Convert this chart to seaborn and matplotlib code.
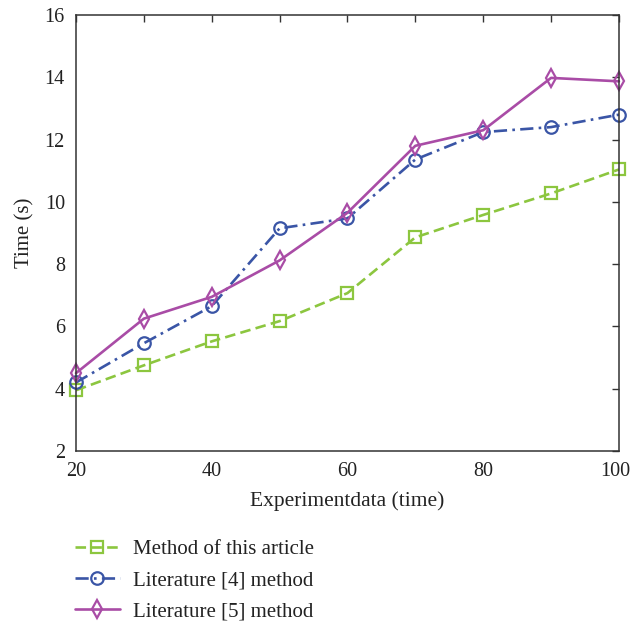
import matplotlib
matplotlib.use("Agg")
import matplotlib.pyplot as plt
import matplotlib.transforms as mtransforms
import seaborn as sns
import pandas as pd

x_vals = [20, 30, 40, 50, 60, 70, 80, 90, 100]
method_this = [3.95, 4.75, 5.52, 6.17, 7.07, 8.86, 9.58, 10.27, 11.04]
lit4 = [4.2, 5.46, 6.65, 9.15, 9.47, 11.36, 12.24, 12.4, 12.8]
lit5 = [4.5, 6.25, 6.95, 8.12, 9.65, 11.8, 12.3, 13.98, 13.87]
series_names = ["Method of this article", "Literature [4] method", "Literature [5] method"]
x_tick_labels = ["20", "", "40", "", "60", "", "80", "", "100"]
y_ticks = [2, 4, 6, 8, 10, 12, 14, 16]

df = pd.DataFrame({
    "x": x_vals * 3,
    "y": method_this + lit4 + lit5,
    "series": [series_names[0]] * 9 + [series_names[1]] * 9 + [series_names[2]] * 9,
})

sns.set_theme(style="white")
plt.rcParams['font.family'] = ['Liberation Serif', 'DejaVu Serif']

fig = plt.figure(figsize=(6.31, 6.22), dpi=100)
ax = fig.add_axes([0.1204, 0.2749, 0.8605, 0.701])

palette = {series_names[0]: "#8cc63f", series_names[1]: "#3a55a6", series_names[2]: "#a94ca6"}
dashes = {series_names[0]: (4, 2), series_names[1]: (5, 2, 1, 2), series_names[2]: ""}
markers = {series_names[0]: "s", series_names[1]: "o", series_names[2]: "d"}

sns.lineplot(data=df, x="x", y="y", hue="series", style="series", palette=palette,
             dashes=dashes, markers=markers, markersize=9,
             markeredgewidth=1.6, linewidth=1.9, ax=ax, legend=True, clip_on=False)
for line in ax.get_lines():
    line.set_markerfacecolor("none")
    line.set_markeredgecolor(line.get_color())

ax.set_xlim(20, 100)
ax.set_ylim(2, 16)
ax.set_xticks(x_vals)
ax.set_xticklabels(x_tick_labels)
ax.set_yticks(y_ticks)
ax.tick_params(axis="both", which="both", direction="in", top=True, right=True,
               length=5, width=1, colors="#333333", labelsize=14.5, labelcolor="#222222")
ax.tick_params(axis="x", pad=8)
ax.tick_params(axis="y", pad=8)
# keep the last x tick label inside the figure edge
last = ax.get_xticklabels()[-1]
last.set_transform(last.get_transform() + mtransforms.ScaledTranslation(-4 / 100, 0, fig.dpi_scale_trans))
for s in ax.spines.values():
    s.set_color("#333333")
    s.set_linewidth(1.1)
ax.set_xlabel("Experimentdata (time)", fontsize=15.5, color="#222222", labelpad=7)
ax.set_ylabel("Time (s)", fontsize=15, color="#222222", labelpad=7)

handles, labels = ax.get_legend_handles_labels()
for h in handles:
    h.set_markerfacecolor("none")
    h.set_markeredgecolor(h.get_color())
leg = ax.legend(handles, labels, loc="upper left", bbox_to_anchor=(-0.002, -0.203),
                frameon=False, fontsize=15, handlelength=2.16, handletextpad=0.62,
                labelspacing=0.55, borderaxespad=0, borderpad=0)
for t in leg.get_texts():
    t.set_color("#222222")

fig.savefig("out.png", dpi=100)
